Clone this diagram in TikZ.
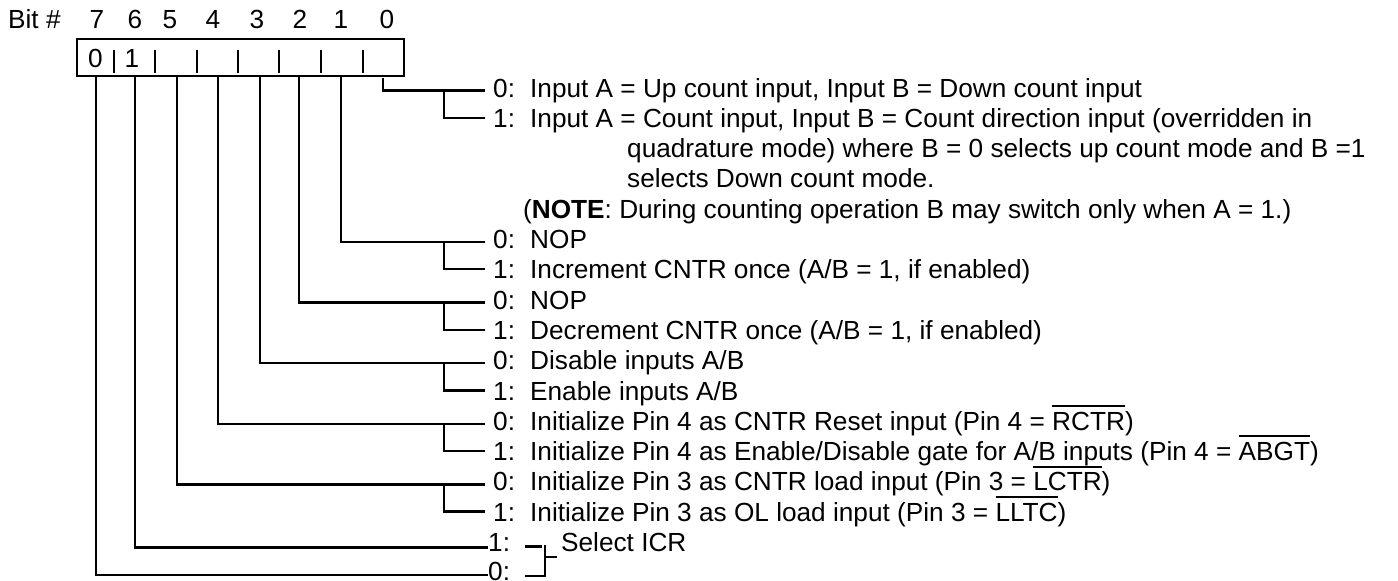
\documentclass[tikz,border=0pt]{standalone}
\usepackage{fontspec}
\setmainfont{Liberation Sans}
\newcommand\ovbar[1]{\setbox0\hbox{#1}\rlap{\rule[\dimexpr\ht0+5pt\relax]{\wd0}{2pt}}\box0}
\begin{document}
\begin{tikzpicture}[x=1pt,y=-1pt,
  wire/.style={line width=2.4pt},
  txt/.style={anchor=base west,inner sep=0pt,font=\fontsize{26.2}{30}\selectfont},
  num/.style={anchor=base,inner sep=0pt,font=\fontsize{26.2}{30}\selectfont},
  zero/.style={yshift=-2.5pt,xshift=-8pt},
  one/.style={yshift=0.5pt,xshift=-8pt}]
\useasboundingbox (0,0) rectangle (1398,581);
% header
\node[txt] (bitlbl) at (8,28) {Bit \#};
\foreach \d/\x in {7/97,6/135,5/170,4/213,3/257,2/300,1/341,0/387}
  \node[num] (h\d) at (\x,28) {\d};
% register
\node[draw,line width=2.4pt,minimum width=327pt,minimum height=37pt,inner sep=0pt,outer sep=0pt,anchor=north west] (reg) at (77,39) {};
\foreach \x in {114,155,197,238,279,321,363}
  \draw[wire] (\x,50) -- (\x,73);
\node[num] (v7) at (95.5,67) {0};
\node[num] (v6) at (132,67) {1};
\coordinate (b7) at (96,76);
\coordinate (b6) at (135,76);
\coordinate (b5) at (177,76);
\coordinate (b4) at (218,76);
\coordinate (b3) at (260,76);
\coordinate (b2) at (299,76);
\coordinate (b1) at (341,76);
\coordinate (b0) at (383,78);
\coordinate (brx) at (444,0);
% labels and descriptions
\node[txt] (l0) at (493,97) {0:};
\node[txt] (d0) at (530,97) {Input A = Up count input, Input B = Down count input};
\node[txt] (l1) at (493,127.3) {1:};
\node[txt] (d1) at (530,127.3) {Input A = Count input, Input B = Count direction input (overridden in};
\node[txt] (d2) at (627,157.6) {quadrature mode) where B = 0 selects up count mode and B =1};
\node[txt] (d3) at (627,187.9) {selects Down count mode.};
\node[txt] (d4) at (523,218.2) {(\textbf{NOTE}: During counting operation B may switch only when A = 1.)};
\node[txt] (l5) at (493,248.5) {0:};
\node[txt] (d5) at (530,248.5) {NOP};
\node[txt] (l6) at (493,278.8) {1:};
\node[txt] (d6) at (530,278.8) {Increment CNTR once (A/B = 1, if enabled)};
\node[txt] (l7) at (493,309.1) {0:};
\node[txt] (d7) at (530,309.1) {NOP};
\node[txt] (l8) at (493,339.4) {1:};
\node[txt] (d8) at (530,339.4) {Decrement CNTR once (A/B = 1, if enabled)};
\node[txt] (l9) at (493,369.7) {0:};
\node[txt] (d9) at (530,369.7) {Disable inputs A/B};
\node[txt] (l10) at (493,400) {1:};
\node[txt] (d10) at (530,400) {Enable inputs A/B};
\node[txt] (l11) at (493,430.3) {0:};
\node[txt] (d11) at (530,430.3) {Initialize Pin 4 as CNTR Reset input (Pin 4 = \ovbar{RCTR})};
\node[txt] (l12) at (493,460.6) {1:};
\node[txt] (d12) at (530,460.6) {Initialize Pin 4 as Enable/Disable gate for A/B inputs (Pin 4 = \ovbar{ABGT})};
\node[txt] (l13) at (493,490.9) {0:};
\node[txt] (d13) at (530,490.9) {Initialize Pin 3 as CNTR load input (Pin 3 = \ovbar{LCTR})};
\node[txt] (l14) at (493,521.2) {1:};
\node[txt] (d14) at (530,521.2) {Initialize Pin 3 as OL load input (Pin 3 = \ovbar{LLTC})};
\node[txt] (l15) at (488,551.5) {1:};
\node[txt] (sel) at (561,551.5) {Select ICR};
\node[txt] (l16) at (488,580.5) {0:};
% line ends at the "0:" labels
\foreach \k in {0,5,7,9,11,13}
  \coordinate (e\k) at ([zero]l\k.west);
% connectors from bits
\draw[wire] (b0) |- (e0);
\draw[wire] (b1) |- (e5);
\draw[wire] (b2) |- (e7);
\draw[wire] (b3) |- (e9);
\draw[wire] (b4) |- (e11);
\draw[wire] (b5) |- (e13);
\draw[wire] (b6) |- ([yshift=-5pt]l15.west);
\draw[wire] (b7) |- ([yshift=-3.5pt]l16.west);
% branches for value 1
\draw[wire] (brx |- e0) |- ([one]l1.west);
\draw[wire] (brx |- e5) |- ([one]l6.west);
\draw[wire] (brx |- e7) |- ([one]l8.west);
\draw[wire] (brx |- e9) |- ([one]l10.west);
\draw[wire] (brx |- e11) |- ([one]l12.west);
\draw[wire] (brx |- e13) |- ([one]l14.west);
% select bracket
\draw[wire] ([xshift=15pt,yshift=-4pt]l15.east) -- ++(17,0);
\draw[wire] ([xshift=15pt,yshift=-4.5pt]l16.east) -- ++(20,0) -- ++(0,-31);
\draw[wire] ([xshift=-4pt,yshift=-15pt]sel.west) -- ++(-12,0);
\end{tikzpicture}
\end{document}
